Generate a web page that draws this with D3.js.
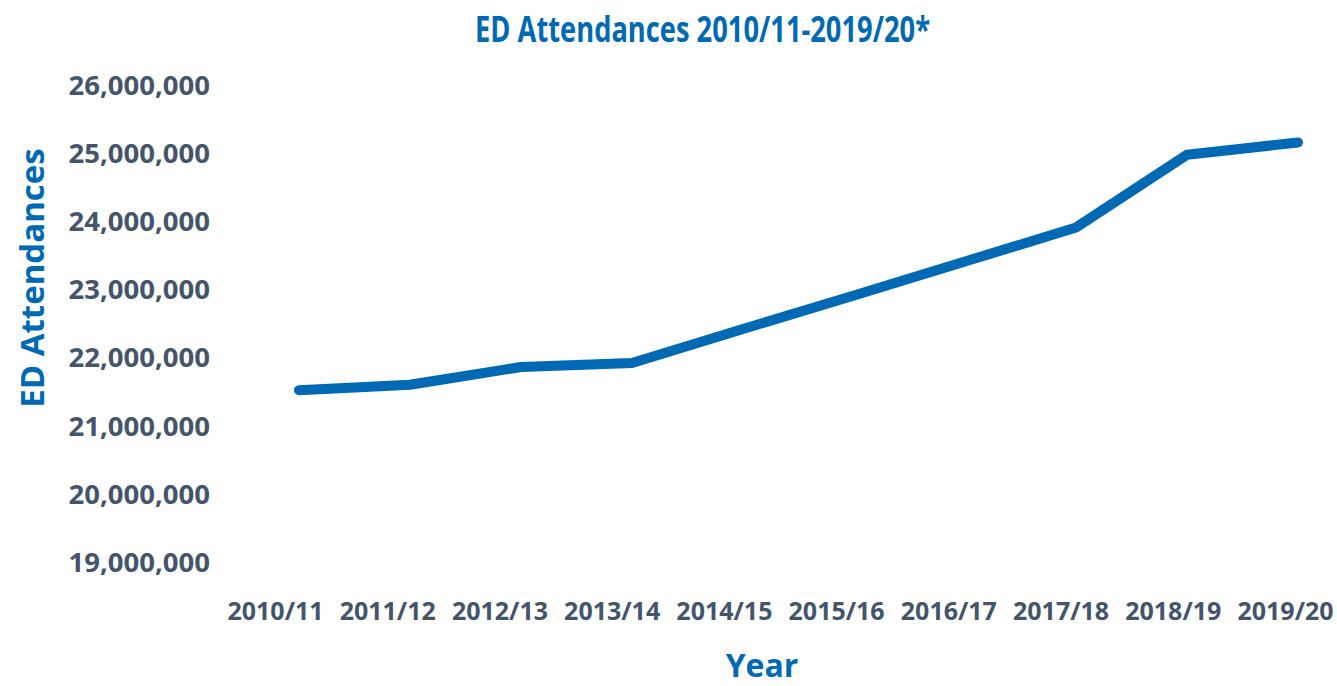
<!DOCTYPE html>
<html>
<head>
<meta charset="utf-8">
<script src="https://cdn.jsdelivr.net/npm/d3@7"></script>
<style>
  body { margin: 0; background: #fff; }
  svg text { font-family: "Open Sans", sans-serif; font-weight: bold; }
</style>
</head>
<body>
<div id="chart"></div>
<script>
// dados
const years = ["2010/11", "2011/12", "2012/13", "2013/14", "2014/15",
               "2015/16", "2016/17", "2017/18", "2018/19", "2019/20"];
const attendances = [21530000, 21610000, 21870000, 21930000, 22430000,
                     22920000, 23420000, 23920000, 24990000, 25170000];
const yTicks = [19000000, 20000000, 21000000, 22000000, 23000000, 24000000, 25000000, 26000000];

const W = 1337, H = 686;
const blue = "#0069B4", grey = "#44546A";

const svg = d3.select("#chart").append("svg")
    .attr("width", W)
    .attr("height", H);

// escalas
const xLabels = d3.scalePoint().domain(years).range([275, 1285]);
const xLine = d3.scalePoint().domain(years).range([299, 1298]);
const y = d3.scaleLinear().domain([19000000, 26000000]).range([562.3, 86]);

// eixo y
const yAxis = d3.axisLeft(y).tickValues(yTicks).tickSize(0).tickPadding(0)
    .tickFormat(d3.format(","));
const gy = svg.append("g").attr("transform", "translate(210,0)").call(yAxis);
gy.select(".domain").remove();
gy.selectAll("text").attr("fill", grey).style("font-size", "27.5px")
    .style("font-family", "'Open Sans', sans-serif").style("font-weight", "bold");

// eixo x
const xAxis = d3.axisBottom(xLabels).tickSize(0).tickPadding(0);
const gx = svg.append("g").attr("transform", "translate(0,602)").call(xAxis);
gx.select(".domain").remove();
gx.selectAll("text").attr("fill", grey).style("font-size", "25px")
    .style("font-family", "'Open Sans', sans-serif").style("font-weight", "bold");

// linha
const line = d3.line()
    .x((d, i) => xLine(years[i]))
    .y(d => y(d));

svg.append("path")
    .datum(attendances)
    .attr("d", line)
    .attr("fill", "none")
    .attr("stroke", blue)
    .attr("stroke-width", 10)
    .attr("stroke-linecap", "round")
    .attr("stroke-linejoin", "round");

// títulos
svg.append("text")
    .attr("x", 475).attr("y", 42)
    .attr("textLength", 455).attr("lengthAdjust", "spacingAndGlyphs")
    .attr("fill", blue).style("font-size", "35px")
    .text("ED Attendances 2010/11-2019/20*");

svg.append("text")
    .attr("x", 762).attr("y", 677)
    .attr("text-anchor", "middle")
    .attr("fill", blue).style("font-size", "32px")
    .text("Year");

svg.append("text")
    .attr("transform", "translate(44,278) rotate(-90)")
    .attr("text-anchor", "middle")
    .attr("fill", blue).style("font-size", "33px")
    .text("ED Attendances");
</script>
</body>
</html>
